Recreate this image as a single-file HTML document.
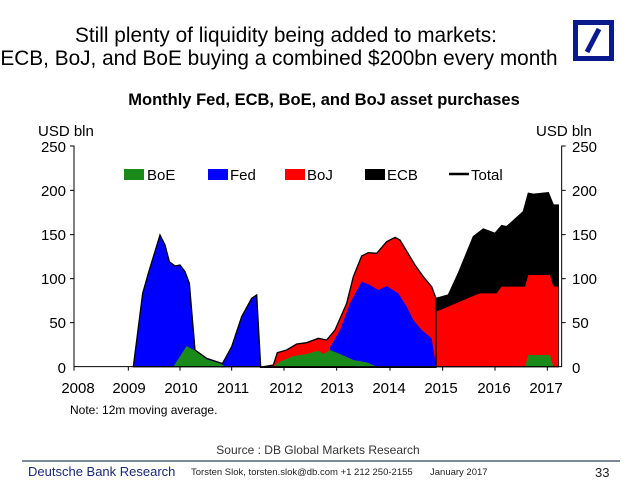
<!DOCTYPE html>
<html><head><meta charset="utf-8"><style>
body{margin:0;background:#fff;}
svg text{font-family:"Liberation Sans",Arial,sans-serif;}
</style></head><body>
<svg width="640" height="491" viewBox="0 0 640 491" xmlns="http://www.w3.org/2000/svg">
<text x="286" y="42" font-size="20.8" text-anchor="middle">Still plenty of liquidity being added to markets:</text>
<text x="279" y="65" font-size="20.8" text-anchor="middle">ECB, BoJ, and BoE buying a combined $200bn every month</text>
<rect x="575.5" y="22.5" width="36" height="36" fill="#fff" stroke="#0a1a8c" stroke-width="5"/>
<line x1="587" y1="52" x2="599" y2="29" stroke="#0a1a8c" stroke-width="5"/>
<text x="324" y="105" font-size="16.5" font-weight="bold" text-anchor="middle">Monthly Fed, ECB, BoE, and BoJ asset purchases</text>
<text x="38" y="136" font-size="15">USD bln</text>
<text x="536" y="136" font-size="15">USD bln</text>
<g font-size="15">
<text x="66" y="152" text-anchor="end">250</text>
<text x="66" y="196" text-anchor="end">200</text>
<text x="66" y="240" text-anchor="end">150</text>
<text x="66" y="284" text-anchor="end">100</text>
<text x="66" y="328" text-anchor="end">50</text>
<text x="66" y="373" text-anchor="end">0</text>
<text x="572" y="152">250</text>
<text x="572" y="196">200</text>
<text x="572" y="240">150</text>
<text x="572" y="284">100</text>
<text x="572" y="328">50</text>
<text x="572" y="373">0</text>
<text x="78" y="393" text-anchor="middle">2008</text>
<text x="129" y="393" text-anchor="middle">2009</text>
<text x="181" y="393" text-anchor="middle">2010</text>
<text x="233" y="393" text-anchor="middle">2011</text>
<text x="286" y="393" text-anchor="middle">2012</text>
<text x="337" y="393" text-anchor="middle">2013</text>
<text x="389" y="393" text-anchor="middle">2014</text>
<text x="441" y="393" text-anchor="middle">2015</text>
<text x="494" y="393" text-anchor="middle">2016</text>
<text x="546" y="393" text-anchor="middle">2017</text>
</g>
<text x="70" y="414" font-size="12">Note: 12m moving average.</text>
<g transform="translate(60,130) scale(0.33333)">
<polygon fill="#000" stroke="#000" stroke-width="4" points="1128,505 1165,495 1195,430 1240,320 1270,297 1305,310 1325,287 1340,290 1390,245 1405,190 1420,193 1465,188 1480,225 1495,225 1495,710 1128,710"/>
<polygon fill="#f00" points="1128,545 1165,530 1235,500 1260,490 1310,490 1325,470 1395,470 1405,435 1470,435 1480,470 1495,470 1495,710 1128,710"/>
<polygon fill="#f00" stroke="#000" stroke-width="4" points="600,712 640,705 652,668 680,660 710,642 740,638 775,625 800,630 825,600 860,520 880,440 905,378 925,368 950,370 980,335 1005,322 1020,330 1065,405 1090,440 1115,470 1128,505 1128,712"/>
<polygon fill="#00f" stroke="#000" stroke-width="4" points="220,710 248,490 265,430 300,315 315,345 328,395 345,408 360,405 375,425 388,460 405,660 440,685 485,700 490,710"/>
<polygon fill="#00f" stroke="#000" stroke-width="4" points="485,710 485,705 515,650 545,560 575,505 590,495 602,710"/>
<polygon fill="#00f" points="810,652 840,600 870,520 905,455 930,465 955,480 980,468 1015,490 1040,530 1060,570 1085,600 1115,625 1128,710 810,710"/>
<polygon fill="#1a8a1a" points="340,710 380,648 405,662 440,688 485,702 495,710"/>
<polygon fill="#1a8a1a" points="640,710 660,695 700,678 740,672 775,662 790,672 810,660 840,672 880,690 920,697 950,710"/>
<polygon fill="#1a8a1a" points="1395,710 1405,675 1470,675 1480,710"/>
<g stroke="#000" stroke-width="3" fill="none">
<polyline points="30,48 42,48 42,710 1505,710 1505,48 1517,48"/>
<line x1="30" y1="181" x2="42" y2="181"/><line x1="30" y1="314" x2="42" y2="314"/><line x1="30" y1="446" x2="42" y2="446"/><line x1="30" y1="578" x2="42" y2="578"/>
<line x1="1505" y1="181" x2="1517" y2="181"/><line x1="1505" y1="314" x2="1517" y2="314"/><line x1="1505" y1="446" x2="1517" y2="446"/><line x1="1505" y1="578" x2="1517" y2="578"/>
<line x1="42" y1="710" x2="42" y2="722"/><line x1="205" y1="710" x2="205" y2="722"/><line x1="360" y1="710" x2="360" y2="722"/><line x1="515" y1="710" x2="515" y2="722"/><line x1="672" y1="710" x2="672" y2="722"/><line x1="830" y1="710" x2="830" y2="722"/><line x1="990" y1="710" x2="990" y2="722"/><line x1="1148" y1="710" x2="1148" y2="722"/><line x1="1305" y1="710" x2="1305" y2="722"/><line x1="1462" y1="710" x2="1462" y2="722"/>
</g>
</g>
<rect x="124" y="169" width="20" height="11" fill="#1a8a1a"/><text x="147" y="180" font-size="15">BoE</text>
<rect x="208" y="169" width="20" height="11" fill="#00f"/><text x="230" y="180" font-size="15">Fed</text>
<rect x="285" y="169" width="20" height="11" fill="#f00"/><text x="307" y="180" font-size="15">BoJ</text>
<rect x="365" y="169" width="20" height="11" fill="#000"/><text x="387" y="180" font-size="15">ECB</text>
<line x1="449" y1="174" x2="469" y2="174" stroke="#000" stroke-width="2.5"/><text x="471" y="180" font-size="15">Total</text>
<text x="318" y="454" font-size="12" text-anchor="middle" fill="#333">Source : DB Global Markets Research</text>
<line x1="22" y1="461" x2="620" y2="461" stroke="#7a8a9a" stroke-width="2"/>
<text x="28" y="476" font-size="13" fill="#1a2a7a">Deutsche Bank Research</text>
<text x="191" y="475" font-size="9.5" fill="#222">Torsten Slok, torsten.slok@db.com  +1 212 250-2155</text>
<text x="430" y="475" font-size="9.5" fill="#222">January 2017</text>
<text x="595" y="477" font-size="13" fill="#222">33</text>
</svg>
</body></html>
